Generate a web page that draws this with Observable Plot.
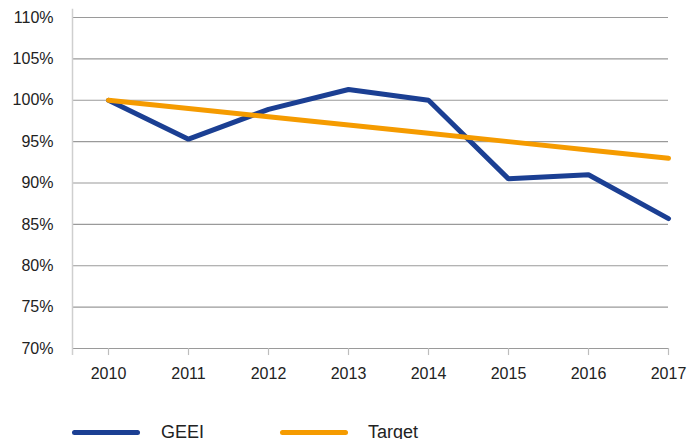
<!DOCTYPE html>
<html>
<head>
<meta charset="utf-8">
<script src="https://cdn.jsdelivr.net/npm/d3@7"></script>
<script src="https://cdn.jsdelivr.net/npm/@observablehq/plot@0.6"></script>
<style>
  html, body { margin: 0; padding: 0; background: #fff; }
  body { width: 698px; height: 439px; overflow: hidden; font-family: "Liberation Sans", Arial, sans-serif; color: #222; }
  #legend { position: relative; width: 698px; height: 39px; }
  .sw { position: absolute; height: 5px; border-radius: 3px; width: 68px; top: 30px; }
  .lt { position: absolute; font-size: 18px; top: 22px; line-height: 20px; color: #222; }
</style>
</head>
<body>
<div id="chart"></div>
<div id="legend"></div>
<script>
const years = [2010, 2011, 2012, 2013, 2014, 2015, 2016, 2017];
const geei = [100.0, 95.3, 98.9, 101.3, 100.0, 90.5, 91.0, 85.7];
const target = [100, 99, 98, 97, 96, 95, 94, 93];
const yTicks = [70, 75, 80, 85, 90, 95, 100, 105, 110];
const seriesNames = ["GEEI", "Target"];
const seriesColors = ["#1b3f93", "#f59b00"];

const geeiData = years.map((y, i) => ({year: y, value: geei[i]}));
const targetData = years.map((y, i) => ({year: y, value: target[i]}));

const plot = Plot.plot({
  width: 698,
  height: 400,
  marginLeft: 72,
  marginRight: 30,
  marginTop: 17,
  marginBottom: 52,
  style: {fontFamily: "Liberation Sans, Arial, sans-serif", fontSize: "16px", color: "#222", background: "#fff"},
  x: {domain: [2009.55, 2017], axis: null},
  y: {domain: [70, 110], axis: null},
  marks: [
    Plot.gridY(yTicks, {stroke: "#9a9a9a", strokeOpacity: 1, strokeWidth: 1.2}),
    Plot.ruleX([2009.55], {y1: 69.15, y2: 111, stroke: "#cfcfcf", strokeWidth: 1.5}),
    Plot.ruleX(years, {y1: 69.15, y2: 70, stroke: "#bdbdbd", strokeWidth: 1.2}),
    Plot.axisY(yTicks, {tickSize: 0, tickPadding: 19, tickFormat: d => d + "%", fill: "#222", fontSize: 16, label: null}),
    Plot.axisX(years, {tickSize: 0, tickPadding: 19, tickFormat: d => String(d), fill: "#222", fontSize: 16, label: null}),
    Plot.line(geeiData, {x: "year", y: "value", stroke: seriesColors[0], strokeWidth: 5, strokeLinecap: "round", strokeLinejoin: "miter"}),
    Plot.line(targetData, {x: "year", y: "value", stroke: seriesColors[1], strokeWidth: 5, strokeLinecap: "round", strokeLinejoin: "round"})
  ]
});
document.getElementById("chart").appendChild(plot);

const legend = document.getElementById("legend");
const swLeft = [72, 280];
const txLeft = [161, 368];
seriesNames.forEach((name, i) => {
  const sw = document.createElement("div");
  sw.className = "sw";
  sw.style.left = swLeft[i] + "px";
  sw.style.background = seriesColors[i];
  legend.appendChild(sw);
  const t = document.createElement("div");
  t.className = "lt";
  t.style.left = txLeft[i] + "px";
  t.textContent = name;
  legend.appendChild(t);
});
</script>
</body>
</html>
